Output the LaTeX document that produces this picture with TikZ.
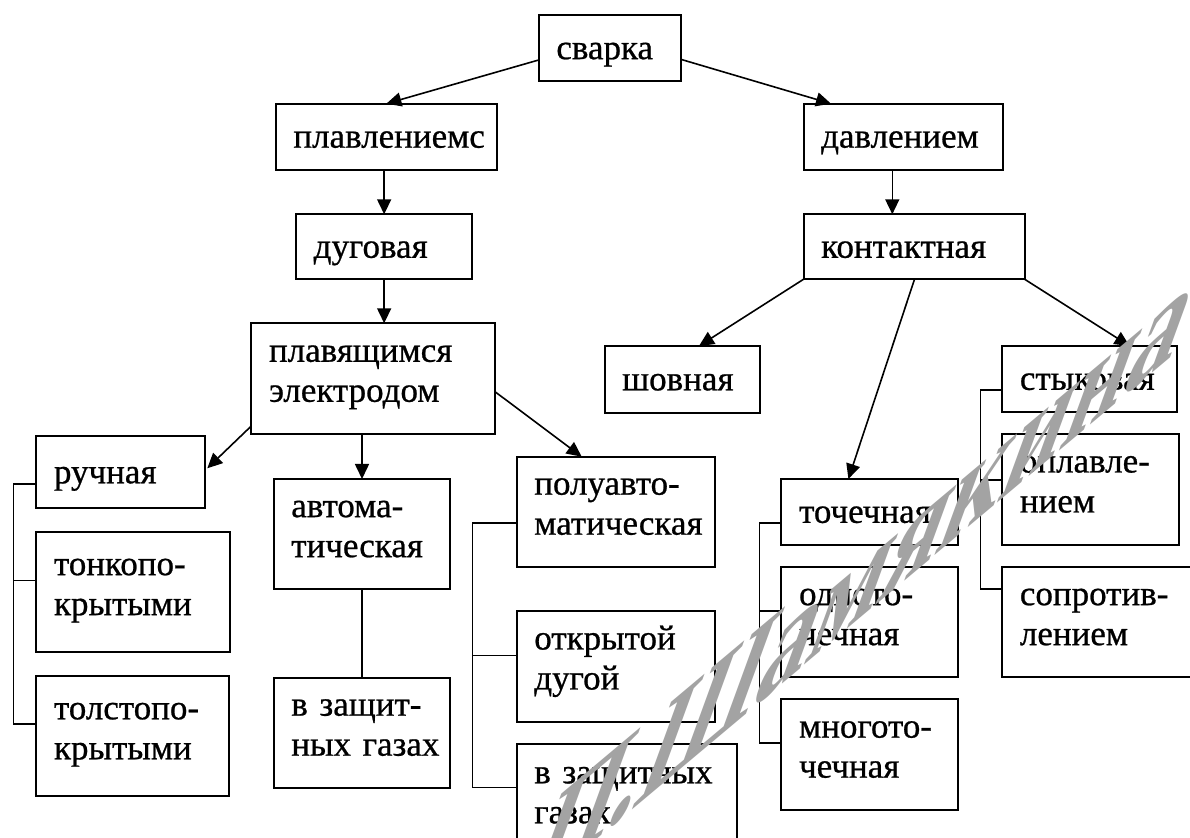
\documentclass[tikz,border=0pt]{standalone}
\usepackage{fontspec}
\setmainfont{Liberation Serif}
\newfontfamily\tnr[FakeBold=0.7]{Liberation Serif}
\usetikzlibrary{arrows.meta,calc}
% one-line box
\newcommand\bx[6]{%
  \pgfmathsetmacro\bxw{(#4-#2)*0.5-17.7}%
  \pgfmathsetmacro\bxh{(#5-#3)*0.5}%
  \node[box,text width=\bxw pt,minimum height=\bxh pt] (#1) at (#2,#3) {\rule{0pt}{17pt}#6\strut};}
% two-line box (text sits a little above the middle)
\newcommand\bxx[6]{%
  \pgfmathsetmacro\bxw{(#4-#2)*0.5-17.7}%
  \pgfmathsetmacro\bxh{(#5-#3)*0.5}%
  \node[box,text width=\bxw pt,minimum height=\bxh pt] (#1) at (#2,#3) {\strut#6\rule[-11pt]{0pt}{11pt}};}
\begin{document}
\begin{tikzpicture}[x=0.5pt,y=-0.5pt,
  box/.style={draw,line width=1pt,rectangle,align=left,inner xsep=8.85pt,inner ysep=0pt,
    outer sep=0pt,anchor=north west,font=\tnr\fontsize{17.5}{20}\selectfont},
  arr/.style={line width=0.8pt,-{Triangle[length=7.5pt,width=7pt]}},
  ln/.style={line width=0.8pt},
  wm/.style={text=gray!72,anchor=base west,inner sep=0pt,
    font=\bfseries\fontsize{70}{74}\selectfont}]
\clip (0,0) rectangle (1190,838);
\useasboundingbox (0,0) rectangle (1190,838);
\fill[white] (0,0) rectangle (1190,838);
% boxes
\bx{svarka}{538.7}{15.3}{680.7}{81}{сварка}
\bx{plav}{275.7}{103.7}{497}{169.7}{плавлениемс}
\bx{davl}{803.5}{103.7}{1002.5}{169.7}{давлением}
\bx{dug}{296}{214.3}{472.3}{279.3}{дуговая}
\bx{kont}{803.5}{214.3}{1024.7}{279.3}{контактная}
\bxx{plel}{251.3}{323.3}{495}{434.3}{плавящимся\\электродом}
\bx{shov}{604.5}{346}{760}{412.7}{шовная}
\bx{styk}{1002.2}{346}{1177.4}{411.7}{стыковая}
\bx{ruch}{36.3}{436.3}{205.3}{508.3}{ручная}
\bxx{avt}{273.6}{479}{450.4}{589.3}{автома-\\тическая}
\bxx{polu}{516.6}{456.7}{715.1}{566.7}{полуавто-\\матическая}
\bx{toch}{781.4}{479}{958.2}{544.7}{точечная}
\bxx{opl}{1002.2}{434.3}{1178.6}{544.7}{оплавле-\\нием}
\bxx{tonk}{36.3}{532.3}{230.3}{652}{тонкопо-\\крытыми}
\bxx{odno}{781.4}{567}{958.2}{677.3}{одното-\\чечная}
\bxx{sopr}{1002.2}{567}{1200}{677.3}{сопротив-\\лением}
\bxx{opkr}{516.6}{611}{715.1}{722}{открытой\\дугой}
\bxx{tols}{36.3}{676.3}{229.3}{796.3}{толстопо-\\крытыми}
\bxx{vzone}{273.6}{677.7}{450.4}{787.7}{в~защит-\\ных~газах}
\bxx{mnog}{781.4}{699.3}{958.2}{810}{многото-\\чечная}
\bxx{vztwo}{516.6}{743.7}{737.3}{857}{в~защитных\\газах}
% arrows
\draw[arr] ($(svarka.south west)+(0,-21)$) -- (plav.north);
\draw[arr] ($(svarka.south east)+(0,-21.7)$) -- ($(davl.north west)+(27.5,0)$);
\draw[arr] (plav.south -| dug.north) -- (dug.north);
\draw[arr] (dug.south) -- (dug.south |- plel.north);
\draw[arr] ($(davl.south west)+(88.8,0)$) -- ($(kont.north west)+(88.8,0)$);
\draw[arr] (kont.south west) -- ($(shov.north west)+(94.5,0)$);
\draw[arr] ($(kont.south west)+(111,0)$) -- ($(toch.north west)+(67,0)$);
\draw[arr] (kont.south east) -- ($(styk.north west)+(127.4,0)$);
\draw[arr] ($(plel.south west)+(0,-8.3)$) -- ($(ruch.east)+(2,-4)$);
\draw[arr] ($(plel.north east)+(0,68.4)$) -- ($(polu.north west)+(65.1,0)$);
\draw[arr] (plel.south -| avt.north) -- (avt.north);
\draw[ln] (avt.south) -- (vzone.north);
% brackets
\draw[ln] ($(ruch.north west)+(0,47.7)$) -- ++(-23,0) |- ($(tols.north west)+(0,47.7)$);
\draw[ln] ($(tonk.north west)+(0,48.4)$) -- ++(-23,0);
\draw[ln] ($(polu.north west)+(0,66.3)$) -- ++(-44.3,0) |- ($(vztwo.north west)+(0,44)$);
\draw[ln] ($(opkr.north west)+(0,44.7)$) -- ++(-44.3,0);
\draw[ln] ($(toch.north west)+(0,44.3)$) -- ++(-21.9,0) |- ($(mnog.north west)+(0,44)$);
\draw[ln] ($(odno.north west)+(0,44.3)$) -- ++(-21.9,0);
\draw[ln] ($(styk.north west)+(0,44)$) -- ++(-21.8,0) |- ($(sopr.north west)+(0,22.3)$);
\draw[ln] ($(opl.north west)+(0,45.7)$) -- ++(-21.8,0);
% watermark
\node[wm,cm={0.766,0.643,0.4275,1.1746,(0,0)}] (mark) at (520,904) {П.Шамякина};
\end{tikzpicture}
\end{document}
